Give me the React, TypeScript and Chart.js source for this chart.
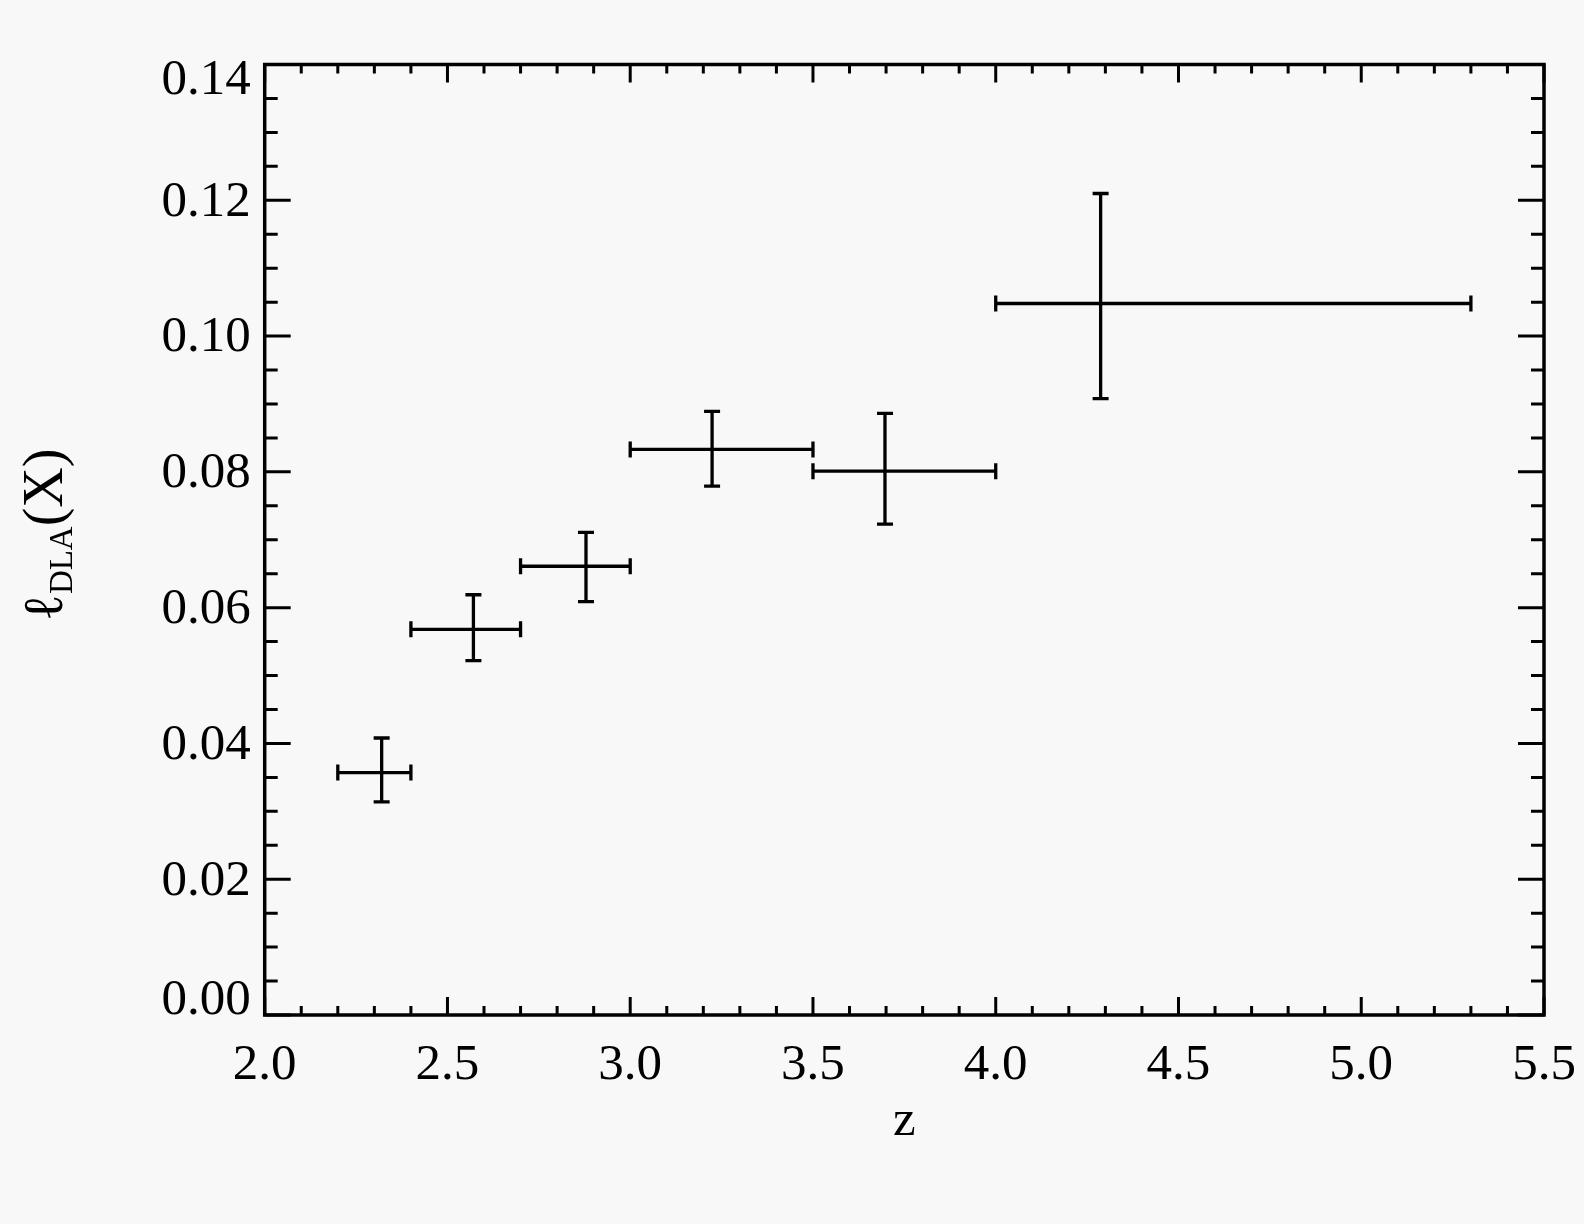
import React, { useEffect, useRef } from "react";
import { Chart, registerables } from "chart.js";

Chart.register(...registerables);

// ---- data ----
const zCenter = [2.32, 2.571, 2.879, 3.224, 3.697, 4.287];
const zLow = [2.2, 2.4, 2.7, 3.0, 3.5, 4.0];
const zHigh = [2.4, 2.7, 3.0, 3.5, 4.0, 5.3];
const lVal = [0.0357, 0.0568, 0.0661, 0.0833, 0.0801, 0.1048];
const lLow = [0.0314, 0.0522, 0.0609, 0.0779, 0.0723, 0.0908];
const lHigh = [0.0408, 0.0619, 0.0711, 0.0889, 0.0886, 0.121];

const xMin = 2.0;
const xMax = 5.5;
const xMajorStep = 0.5;
const xMinorStep = 0.1;
const yMin = 0;
const yMax = 0.14;
const yTickValues = [0, 0.02, 0.04, 0.06, 0.08, 0.1, 0.12, 0.14];
const yMinorStep = 0.005;

const xTitle = "z";
const yTitleMain = "\u2113";
const yTitleSub = "DLA";
const yTitleTail = "(X)";

const SERIF = '"Liberation Serif", "Times New Roman", serif';
const BG = "#f8f8f8";
const TICK_FONT = 51;

const bgPlugin = {
  id: "bgFill",
  beforeDraw(chart: any) {
    const { ctx, width, height } = chart;
    ctx.save();
    ctx.fillStyle = BG;
    ctx.fillRect(0, 0, width, height);
    ctx.restore();
  },
};

const errorBarPlugin = {
  id: "errorBars",
  afterDatasetsDraw(chart: any) {
    const { ctx, scales } = chart;
    const xs = scales.x;
    const ys = scales.y;
    ctx.save();
    ctx.strokeStyle = "#000";
    ctx.lineWidth = 3.3;
    ctx.lineCap = "butt";
    const cap = 8;
    for (let i = 0; i < zCenter.length; i++) {
      const px = xs.getPixelForValue(zCenter[i]);
      const py = ys.getPixelForValue(lVal[i]);
      const x0 = xs.getPixelForValue(zLow[i]);
      const x1 = xs.getPixelForValue(zHigh[i]);
      const y0 = ys.getPixelForValue(lLow[i]);
      const y1 = ys.getPixelForValue(lHigh[i]);
      ctx.beginPath();
      ctx.moveTo(x0, py);
      ctx.lineTo(x1, py);
      ctx.moveTo(x0, py - cap);
      ctx.lineTo(x0, py + cap);
      ctx.moveTo(x1, py - cap);
      ctx.lineTo(x1, py + cap);
      ctx.moveTo(px, y0);
      ctx.lineTo(px, y1);
      ctx.moveTo(px - cap, y0);
      ctx.lineTo(px + cap, y0);
      ctx.moveTo(px - cap, y1);
      ctx.lineTo(px + cap, y1);
      ctx.stroke();
    }
    ctx.restore();
  },
};

const framePlugin = {
  id: "frame",
  afterDraw(chart: any) {
    const { ctx, chartArea: a, scales } = chart;
    const xs = scales.x;
    const ys = scales.y;
    ctx.save();
    ctx.strokeStyle = "#000";
    ctx.fillStyle = "#000";
    ctx.lineWidth = 3;
    ctx.beginPath();
    const nx = Math.round((xMax - xMin) / xMinorStep);
    const perMajorX = Math.round(xMajorStep / xMinorStep);
    for (let i = 0; i <= nx; i++) {
      const v = xMin + i * xMinorStep;
      const px = xs.getPixelForValue(v);
      const len = i % perMajorX === 0 ? 18 : 9;
      ctx.moveTo(px, a.bottom);
      ctx.lineTo(px, a.bottom - len);
      ctx.moveTo(px, a.top);
      ctx.lineTo(px, a.top + len);
    }
    const ny = Math.round((yMax - yMin) / yMinorStep);
    const perMajorY = Math.round((yTickValues[1] - yTickValues[0]) / yMinorStep);
    for (let i = 0; i <= ny; i++) {
      const v = yMin + i * yMinorStep;
      const py = ys.getPixelForValue(v);
      const len = i % perMajorY === 0 ? 26 : 13;
      ctx.moveTo(a.left, py);
      ctx.lineTo(a.left + len, py);
      ctx.moveTo(a.right, py);
      ctx.lineTo(a.right - len, py);
    }
    ctx.stroke();

    ctx.lineWidth = 3.5;
    ctx.strokeRect(a.left, a.top, a.right - a.left, a.bottom - a.top);

    // y tick labels
    ctx.font = `${TICK_FONT}px ${SERIF}`;
    ctx.textAlign = "right";
    ctx.textBaseline = "middle";
    for (let i = 0; i < yTickValues.length; i++) {
      const v = yTickValues[i];
      let py = ys.getPixelForValue(v);
      if (i === 0) py -= 16;
      if (i === yTickValues.length - 1) py += 14;
      ctx.fillText(v.toFixed(2), a.left - 14, py + 2);
    }

    // y title
    ctx.save();
    const cy = (a.top + a.bottom) / 2 - 5;
    ctx.translate(62, cy);
    ctx.rotate(-Math.PI / 2);
    ctx.textAlign = "left";
    ctx.textBaseline = "alphabetic";
    const mainFont = `56px ${SERIF}`;
    const subFont = `33px ${SERIF}`;
    ctx.font = mainFont;
    const wL = ctx.measureText(yTitleMain).width;
    const wP = ctx.measureText(yTitleTail).width;
    ctx.font = subFont;
    const wS = ctx.measureText(yTitleSub).width;
    let x = -(wL + wS + wP) / 2;
    ctx.font = mainFont;
    ctx.fillText(yTitleMain, x, 0);
    x += wL;
    ctx.font = subFont;
    ctx.fillText(yTitleSub, x, 10);
    x += wS;
    ctx.font = mainFont;
    ctx.fillText(yTitleTail, x, 0);
    ctx.restore();

    ctx.restore();
  },
};

export default function App() {
  const ref = useRef<HTMLCanvasElement | null>(null);
  useEffect(() => {
    document.body.style.margin = "0";
    document.body.style.background = BG;
    const canvas = ref.current;
    if (!canvas) return;
    const points = zCenter.map((z, i) => ({ x: z, y: lVal[i] }));
    const chart = new Chart(canvas, {
      type: "scatter",
      data: {
        datasets: [
          {
            data: points,
            pointRadius: 0,
            borderColor: "#000",
            backgroundColor: "#000",
          },
        ],
      },
      options: {
        responsive: false,
        animation: false,
        devicePixelRatio: 1,
        layout: { padding: { left: 0, right: 40, top: 64.5, bottom: 0 } },
        plugins: {
          legend: { display: false },
          tooltip: { enabled: false },
          title: { display: false },
        },
        scales: {
          x: {
            type: "linear",
            min: xMin,
            max: xMax,
            grid: { display: false },
            border: { display: false },
            ticks: {
              stepSize: xMajorStep,
              color: "#000",
              font: { family: SERIF, size: TICK_FONT },
              padding: 12,
              maxRotation: 0,
              callback: (v: any) => Number(v).toFixed(1),
            },
            title: {
              display: true,
              text: xTitle,
              color: "#000",
              font: { family: SERIF, size: 51 },
              padding: { top: 0, bottom: 72 },
            },
            afterFit: (s: any) => {
              s.height = 209;
              s.paddingLeft = 0;
              s.paddingRight = 0;
            },
          },
          y: {
            type: "linear",
            min: yMin,
            max: yMax,
            grid: { display: false },
            border: { display: false },
            ticks: { display: false },
            afterFit: (s: any) => {
              s.width = 264.7;
              s.paddingTop = 0;
              s.paddingBottom = 0;
            },
          },
        },
      },
      plugins: [bgPlugin, errorBarPlugin, framePlugin],
    });
    return () => chart.destroy();
  }, []);
  return (
    <div style={{ position: "absolute", left: 0, top: 0, width: 1584, height: 1224, background: BG }}>
      <canvas ref={ref} width={1584} height={1224} style={{ display: "block" }} />
    </div>
  );
}
